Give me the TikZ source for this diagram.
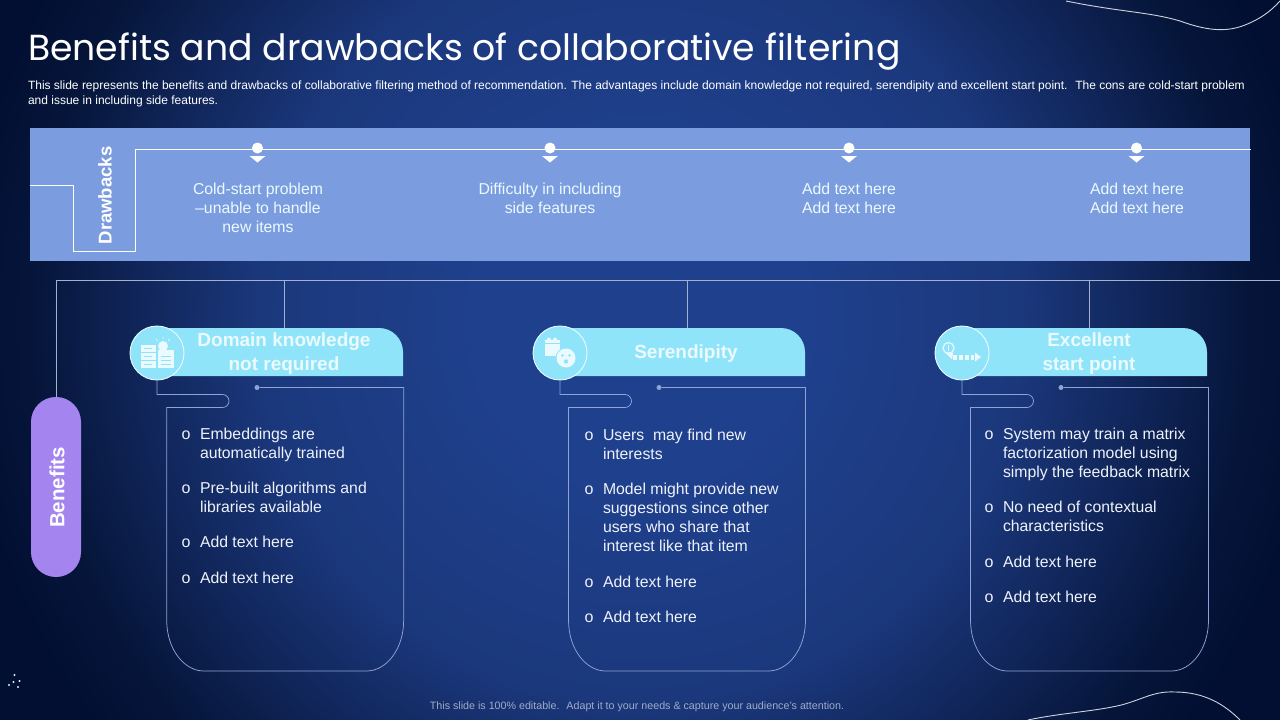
\documentclass[tikz,border=0pt]{standalone}
\usepackage{fontspec}
\setmainfont{Liberation Sans}
\newfontfamily\titlefont{Poppins}
\usetikzlibrary{calc}
\definecolor{bgdark}{HTML}{020F33}
\definecolor{bgmid}{HTML}{0F2355}
\definecolor{bgnear}{HTML}{051539}
\definecolor{bgsoft}{HTML}{1B387C}
\definecolor{bgcore}{HTML}{1F408D}
\definecolor{band}{HTML}{7C9CE0}
\definecolor{headfill}{HTML}{90E4FA}
\definecolor{headtext}{HTML}{EAFAFE}
\definecolor{cardline}{HTML}{8FA3D6}
\definecolor{treeline}{HTML}{A3B0D0}
\definecolor{pillfill}{HTML}{A485F0}
\definecolor{body}{HTML}{EEF2FA}
\pgfdeclareradialshading{bgshade}{\pgfpoint{0bp}{0bp}}{color(0bp)=(bgcore); color(6bp)=(bgcore); color(14bp)=(bgsoft); color(19bp)=(bgmid); color(22.5bp)=(bgnear); color(25bp)=(bgdark); color(50bp)=(bgdark)}
\tikzset{
  x=1pt,y=-1pt,
  every node/.style={inner sep=0pt,outer sep=0pt,text=body},
  bodytext/.style={font=\fontsize{15.8}{19}\selectfont,align=left,anchor=north west},
  toptext/.style={font=\fontsize{15.8}{19}\selectfont,align=center,anchor=north,text=headtext},
  headtextstyle/.style={font=\bfseries\fontsize{19}{24}\selectfont,align=center,text=headtext},
  bul/.style={font=\fontsize{16}{19}\selectfont,anchor=center},
  cardpath/.style={draw=cardline,line width=0.75pt},
  tree/.style={draw=treeline,line width=0.75pt},
  wline/.style={draw=white,line width=0.9pt},
  pinhead/.style={circle,fill=white,minimum size=11pt},
  swirl/.style={draw=white!80!bgmid,line width=0.9pt},
  iconshape/.style={fill=headtext,draw=none},
}
% #1 name, #2 circle x, #3 dot x, #4 right x, #5 left x, #6 hairpin end x, #7 header right x
\newcommand{\cardframe}[7]{%
  \fill[headfill] (#2,328) -- (#7-24,328) arc[start angle=-90,end angle=0,radius=24] -- (#7,376) -- (#2,376) -- cycle;
  \node[circle,draw=headtext,line width=0.9pt,fill=headfill,minimum size=54pt] (#1c) at (#2,353) {};
  \node[circle,fill=cardline,minimum size=5pt] (#1d) at (#3,387.5) {};
  \draw[cardpath] (#1d.east) -- (#4,387.5) -- (#4,620)
     .. controls (#4,650) and (#4-18,671) .. (#4-37,671) -- (#5+37,671)
     .. controls (#5+18,671) and (#5,650) .. (#5,620) -- (#5,407.5) -- (#6,407.5)
     arc[start angle=90,end angle=-90,radius=6.5] -- (#2,394.5) -- (#1c.south);
}
\newcommand{\pin}[2]{%
  \node[pinhead] (#1) at (#2,148) {};
  \fill[white] (#2-8,156) -- (#2+8,156) -- (#2,162.5) -- cycle;
}
\begin{document}
\begin{tikzpicture}
\useasboundingbox (0,0) rectangle (1280,720);
\fill[bgdark] (0,0) rectangle (1280,720);
\begin{scope}
  \clip (0,0) rectangle (1280,720);
  \shade[shading=bgshade] (640,320) circle[radius=680];
\end{scope}
% corner swirls
\draw[swirl] (1066,1) .. controls (1120,12) and (1150,12) .. (1180,21)
   .. controls (1205,30) and (1225,33) .. (1245,25) .. controls (1260,19) and (1270,12) .. (1280,1);
\draw[swirl] (1028,720) .. controls (1060,713) and (1100,711) .. (1125,704)
   .. controls (1145,698) and (1155,691) .. (1175,692) .. controls (1205,692) and (1225,705) .. (1240,720);
% logo dots
\foreach \p in {(14.5,675),(13.5,682),(19.5,681),(9,685),(18,687)} \fill[white!85!cyan] \p circle[radius=1.2];
% title
\node[anchor=west,text=white,font=\titlefont\fontsize{36.2}{40}\selectfont] (title) at (28,51.5) {Benefits and drawbacks of collaborative filtering};
\node[anchor=north west,align=left,text=white,font=\fontsize{12}{15}\selectfont] (intro) at (28,80.8) {This slide represents the benefits and drawbacks of collaborative filtering method of recommendation. The advantages include domain knowledge not required, serendipity and excellent start point.~ The cons are cold-start problem\\and issue in including side features.};
% drawbacks band
\node[anchor=north west,fill=band,minimum width=1220pt,minimum height=133pt] (band) at (30,128) {};
\node[rotate=90,text=white,font=\bfseries\fontsize{18.5}{20}\selectfont] (draw) at (105,195.5) {Drawbacks};
\coordinate (dstart) at (29.5,185);
\coordinate (dend) at (1251,149.5);
\draw[wline] (dstart) -- (73.5,185) -- (73.5,251) -- (135,251) -- (135,149.5) -- (dend);
\pin{p1}{257.5}\pin{p2}{550}\pin{p3}{849}\pin{p4}{1136.5}
\node[toptext] (t1) at (258,183) {Cold-start problem\\–unable to handle\\new items};
\node[toptext] (t2) at (550,183) {Difficulty in including\\side features};
\node[toptext] (t3) at (849,183) {Add text here\\Add text here};
\node[toptext] (t4) at (1137,183) {Add text here\\Add text here};
% benefits pill
\node[rounded corners=24.9pt,minimum width=50pt,minimum height=180pt,fill=pillfill] (pill) at (56,487) {};
\node[rotate=90,text=white,font=\bfseries\fontsize{20.5}{20}\selectfont] (ben) at (57,487.5) {Benefits};
% cards
\cardframe{a}{157}{257}{403.7}{166.7}{222.5}{403}
\cardframe{b}{560}{659}{805.5}{568.5}{625}{805}
\cardframe{c}{962}{1061}{1208.5}{970.5}{1027}{1207}
% tree
\draw[tree] (pill.north) -- (56,280) -- (1280,280);
\draw[tree] (284,280) -- (284,328);
\draw[tree] (687,280) -- (687,328);
\draw[tree] (1089.5,280) -- (1089.5,328);
% headings
\node[headtextstyle] (ah) at (284,354) {Domain knowledge\\not required};
\node[headtextstyle] (bh) at (686,354) {Serendipity};
\node[headtextstyle] (ch) at (1089,354) {Excellent\\start point};
% icons
\begin{scope}[shift={(141,342)}]
  \fill[iconshape] (0,3) rectangle (15,10); \fill[iconshape] (0,11) rectangle (15,18); \fill[iconshape] (0,19) rectangle (15,26);
  \fill[iconshape] (17,8) rectangle (33,26);
  \fill[iconshape] (22,4) circle[radius=5];
  \draw[headfill,line width=0.8pt] (3,6.5) -- (11,6.5) (3,14.5) -- (11,14.5) (3,22.5) -- (11,22.5) (20,14) -- (30,14) (20,18) -- (30,18) (20,22) -- (30,22);
  \draw[headtext,line width=0.7pt] (22,-5) -- (22,-3) (15,-3) -- (17,-1) (29,-3) -- (27,-1);
\end{scope}
\begin{scope}[shift={(545,338)}]
  \fill[iconshape] (0,6) rectangle (15,18);
  \fill[iconshape] (0,2) rectangle (15,5);
  \fill[iconshape] (4,1.5) circle[radius=2]; \fill[iconshape] (10,1.5) circle[radius=2];
  \fill[headfill] (21,20) circle[radius=10.5];
  \fill[iconshape] (21,20) circle[radius=9.5];
  \fill[headfill] (17.5,17.5) circle[radius=1.4]; \fill[headfill] (24.5,17.5) circle[radius=1.4]; \fill[headfill] (21,23.5) circle[radius=2.2];
\end{scope}
\begin{scope}[shift={(943,340)}]
  \draw[headtext,line width=1.2pt,fill=headfill] (5.5,8) circle[radius=5.5];
  \draw[headtext,line width=0.8pt] (5.5,5) -- (5.5,11);
  \fill[iconshape] (1.5,12) -- (10,13) -- (9,19.5) -- cycle;
  \foreach \x in {10,16,22} \fill[iconshape] (\x,14.5) rectangle (\x+4,19.5);
  \fill[iconshape] (32,12.5) -- (38,17) -- (32,21.5) -- cycle;
  \fill[iconshape] (28,14.5) rectangle (31,19.5);
\end{scope}
% bullets
\foreach \y/\t in {434/{Embeddings are\\automatically trained},488/{Pre-built algorithms and\\libraries available},542/{Add text here},578/{Add text here}}{
  \node[bul] at (186,\y+0.8) {o};
  \node[bodytext,anchor=north west] at (200,\y-5.8) {\t};
}
\foreach \y/\t in {435/{Users~ may find new\\interests},489/{Model might provide new\\suggestions since other\\users who share that\\interest like that item},582/{Add text here},617/{Add text here}}{
  \node[bul] at (589,\y+0.8) {o};
  \node[bodytext,anchor=north west] at (603,\y-5.8) {\t};
}
\foreach \y/\t in {434/{System may train a matrix\\factorization model using\\simply the feedback matrix},507/{No need of contextual\\characteristics},562/{Add text here},597/{Add text here}}{
  \node[bul] at (989,\y+0.8) {o};
  \node[bodytext,anchor=north west] at (1003,\y-5.8) {\t};
}
% footer
\node[text=white!58!bgsoft,font=\fontsize{10.7}{12}\selectfont] (foot) at (637,707) {This slide is 100\% editable.~ Adapt it to your needs \& capture your audience's attention.};
\end{tikzpicture}
\end{document}
